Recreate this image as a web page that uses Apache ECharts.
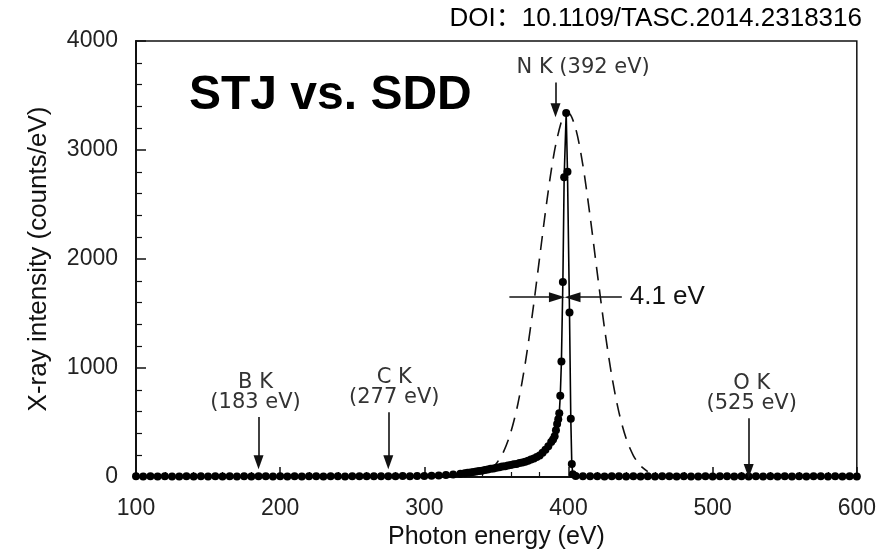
<!DOCTYPE html>
<html lang="en">
<head>
<meta charset="UTF-8">
<title>STJ vs. SDD - N K spectrum</title>
<script src="https://cdn.jsdelivr.net/npm/echarts@6/dist/echarts.min.js"></script>
<style>
  html, body { margin: 0; padding: 0; background: #fff; }
  #main { width: 879px; height: 557px; }
</style>
</head>
<body>
<div id="main"></div>
<script>
// STJ spectrum: photon energy (eV) and intensity (counts/eV)
const stjEnergy = [
  100, 105, 110, 115, 120, 125, 130, 135, 140, 145, 150, 155, 160, 165, 170, 175, 180, 185, 190, 195,
  200, 205, 210, 215, 220, 225, 230, 235, 240, 245, 250, 255, 260, 265, 270, 275, 280, 285, 290, 295,
  300, 305, 310, 315, 320, 325,
  328, 330, 332, 334, 336, 338, 340, 342, 344, 346, 348, 350, 352, 354, 356, 358, 360, 362, 364, 366,
  368, 370, 372, 374, 376, 378, 380, 382, 384, 386, 388,
  389.3, 390.4, 391.3, 392.1, 392.9, 393.6, 394.3, 395.1, 396.1, 397.0,
  398.4, 399.3, 400.7, 401.6, 402.3, 403, 405,
  410, 415, 420, 425, 430, 435, 440, 445, 450, 455, 460, 465, 470, 475, 480, 485, 490, 495, 500,
  505, 510, 515, 520, 525, 530, 535, 540, 545, 550, 555, 560, 565, 570, 575, 580, 585, 590, 595, 600
];
const stjCounts = [
  6, 4, 7, 5, 6, 4, 5, 7, 5, 6, 4, 6, 5, 7, 4, 6, 5, 6, 7, 5,
  6, 4, 6, 5, 7, 6, 5, 7, 6, 5, 7, 6, 8, 6, 7, 8, 7, 9, 8, 10,
  10, 12, 14, 18, 23, 30,
  34, 39, 41, 47, 50, 55, 58, 65, 68, 76, 79, 86, 89, 96, 99, 106, 109, 116, 120, 128,
  132, 141, 149, 161, 169, 183, 197, 223, 249, 281, 320,
  345, 375, 430, 486, 530, 584, 745, 1060, 1790, 2750,
  3340, 2800, 1510, 535, 120, 25, 9,
  8, 6, 7, 5, 6, 7, 5, 6, 4, 6, 5, 7, 6, 5, 6, 4, 5, 6, 5,
  7, 6, 5, 6, 4, 6, 5, 7, 5, 6, 4, 6, 5, 6, 7, 5, 6, 4, 6, 5
];

// SDD spectrum (dashed curve)
const sddEnergy = [345, 350, 355, 360, 365, 370, 375, 380, 385, 390, 395, 398, 400,
  405, 410, 415, 420, 425, 430, 435, 440, 445, 450, 455];
const sddCounts = [55, 124, 233, 411, 677, 1043, 1499, 2015, 2531, 2970, 3257, 3332, 3338,
  3196, 2860, 2391, 1868, 1364, 930, 593, 353, 197, 102, 50];

// X-ray line markers (arrow from top value down to tip value)
const lineLabels = ['B K\n(183 eV)', 'C K\n(277 eV)', 'N K (392 eV)', 'O K\n(525 eV)'];
const lineEnergy = [185, 275, 391, 525];
const arrowTop = [550, 595, 3620, 540];
const arrowTip = [135, 135, 3365, 55];

// FWHM marker
const fwhmLevel = 1650;
const fwhmLeft = [359, 392];     // tail -> tip
const fwhmRight = [437, 402.8];  // tail -> tip
const fwhmText = '4.1 eV';
const fwhmTextAt = 442.5;

// axis ticks
const xTicks = [100, 600, 100];   // min, max, interval
const yTicks = [0, 4000, 1000];

const chart = echarts.init(document.getElementById('main'));

const stjData = stjEnergy.map((e, i) => [e, stjCounts[i]]);
const sddData = sddEnergy.map((e, i) => [e, sddCounts[i]]);

const arrowStyle = { color: '#111', width: 1.6, type: 'solid' };
const arrowLines = lineEnergy.map((e, i) => [
  { coord: [e, arrowTop[i]], symbol: 'none' },
  { coord: [e, arrowTip[i]], symbol: 'triangle', symbolSize: [10, 14] }
]);
arrowLines.push([
  { coord: [fwhmLeft[0], fwhmLevel], symbol: 'none' },
  { coord: [fwhmLeft[1], fwhmLevel], symbol: 'triangle', symbolSize: [10, 16] }
]);
arrowLines.push([
  { coord: [fwhmRight[0], fwhmLevel], symbol: 'none' },
  { coord: [fwhmRight[1], fwhmLevel], symbol: 'triangle', symbolSize: [10, 16] }
]);

const axisText = { fontFamily: 'Liberation Sans', fontSize: 23, color: '#222' };

chart.setOption({
  animation: false,
  grid: {
    left: 136, right: 17, top: 41, bottom: 80,
    show: true, borderColor: '#111', borderWidth: 1.5, backgroundColor: '#fff'
  },
  xAxis: {
    type: 'value', min: xTicks[0], max: xTicks[1], interval: xTicks[2],
    name: 'Photon energy (eV)', nameLocation: 'middle', nameGap: 47,
    nameTextStyle: { fontFamily: 'Liberation Sans', fontSize: 25, color: '#111' },
    axisLine: { show: true, onZero: false, lineStyle: { color: '#111', width: 2 } },
    axisTick: { show: true, inside: true, length: 10, lineStyle: { color: '#111', width: 1.5 } },
    minorTick: { show: true, splitNumber: 5, length: 5, lineStyle: { color: '#111', width: 1.2 } },
    splitLine: { show: false },
    axisLabel: Object.assign({ margin: 20 }, axisText)
  },
  yAxis: {
    type: 'value', min: yTicks[0], max: yTicks[1], interval: yTicks[2],
    name: 'X-ray intensity (counts/eV)', nameLocation: 'middle', nameGap: 84,
    nameTextStyle: { fontFamily: 'Liberation Sans', fontSize: 26, color: '#111' },
    axisLine: { show: true, lineStyle: { color: '#111', width: 2 } },
    axisTick: { show: true, inside: true, length: 10, lineStyle: { color: '#111', width: 1.5 } },
    minorTick: { show: true, splitNumber: 5, length: 6, lineStyle: { color: '#111', width: 1.2 } },
    splitLine: { show: false },
    axisLabel: Object.assign({ margin: 18, formatter: v => String(v) }, axisText)
  },
  series: [
    {
      name: 'SDD',
      type: 'line',
      data: sddData,
      showSymbol: false,
      smooth: 0.3,
      lineStyle: { color: '#111', width: 1.6, type: [14, 9] },
      z: 2
    },
    {
      name: 'STJ',
      type: 'line',
      data: stjData,
      symbol: 'circle',
      symbolSize: 8,
      showAllSymbol: true,
      itemStyle: { color: '#000' },
      lineStyle: { color: '#000', width: 1.6 },
      z: 3,
      markLine: {
        silent: true,
        animation: false,
        label: { show: false },
        lineStyle: arrowStyle,
        data: arrowLines
      }
    }
  ]
});

// text annotations anchored to data coordinates
const toPx = (x, y) => chart.convertToPixel({ seriesIndex: 1 }, [x, y]);
const annoFont = '21px "DejaVu Sans"';
const labelDx = [-3, 6, 0, 3];
const texts = lineLabels.map((t, i) => {
  const p = toPx(lineEnergy[i], arrowTop[i]);
  const single = t.indexOf('\n') < 0;
  return {
    type: 'text',
    x: single ? p[0] - 39 : p[0] + labelDx[i],
    y: p[1] - 5,
    style: {
      text: t, font: annoFont, fill: '#333', lineHeight: 20,
      align: single ? 'left' : 'center', verticalAlign: 'bottom'
    }
  };
});
const fp = toPx(fwhmTextAt, fwhmLevel);
texts.push({
  type: 'text', x: fp[0], y: fp[1],
  style: { text: fwhmText, font: '26px "Liberation Sans"', fill: '#111', align: 'left', verticalAlign: 'middle' }
});
texts.push({
  type: 'text', x: 189, y: 96,
  style: { text: 'STJ vs. SDD', font: 'bold 48px "Liberation Sans"', fill: '#000', align: 'left', verticalAlign: 'middle' }
});
texts.push({
  type: 'text', x: 862, y: 19,
  style: { text: 'DOI：10.1109/TASC.2014.2318316', font: '26px "Liberation Sans", "Noto Sans CJK SC"', fill: '#000', align: 'right', verticalAlign: 'middle' }
});
chart.setOption({ graphic: texts });
</script>
</body>
</html>
